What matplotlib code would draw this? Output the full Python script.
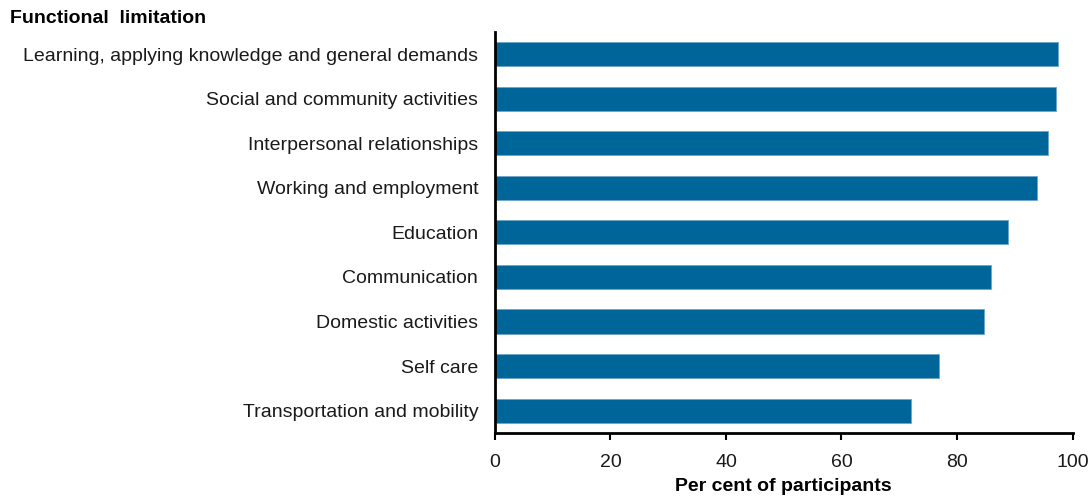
import matplotlib
matplotlib.use("Agg")
import matplotlib.pyplot as plt

plt.rcParams['font.family'] = ['Liberation Sans', 'DejaVu Sans']

categories = [
    "Learning, applying knowledge and general demands",
    "Social and community activities",
    "Interpersonal relationships",
    "Working and employment",
    "Education",
    "Communication",
    "Domestic activities",
    "Self care",
    "Transportation and mobility",
]
values = [97.4, 97.1, 95.8, 93.9, 88.9, 85.8, 84.6, 76.8, 72.1]
x_ticks = [0, 20, 40, 60, 80, 100]

fig = plt.figure(figsize=(10.9, 4.97), dpi=100)
ax = fig.add_axes([0.454, 0.129, 0.53, 0.807])

pos = list(range(len(categories)))
ax.barh(pos, values, height=0.54, color="#006699", edgecolor="#6fa6c6", linewidth=0.6)

ax.set_ylim(8.5, -0.5)
ax.set_xlim(0, 100)
ax.set_yticks(pos)
ax.set_yticklabels(categories, fontsize=14, color="#1a1a1a")
ax.set_xticks(x_ticks)
ax.set_xticklabels([str(t) for t in x_ticks], fontsize=14, color="#1a1a1a")

for s in ["top", "right"]:
    ax.spines[s].set_visible(False)
ax.spines["left"].set_linewidth(2)
ax.spines["bottom"].set_linewidth(2)
ax.tick_params(axis="y", length=0, pad=12)
ax.tick_params(axis="x", direction="out", length=5, width=1.5, pad=10)

ax.set_xlabel("Per cent of participants", fontsize=14, fontweight="bold", labelpad=5)
fig.text(0.009, 0.962, "Functional  limitation", fontsize=14, fontweight="bold", va="center")

fig.savefig("out.png", dpi=100)
